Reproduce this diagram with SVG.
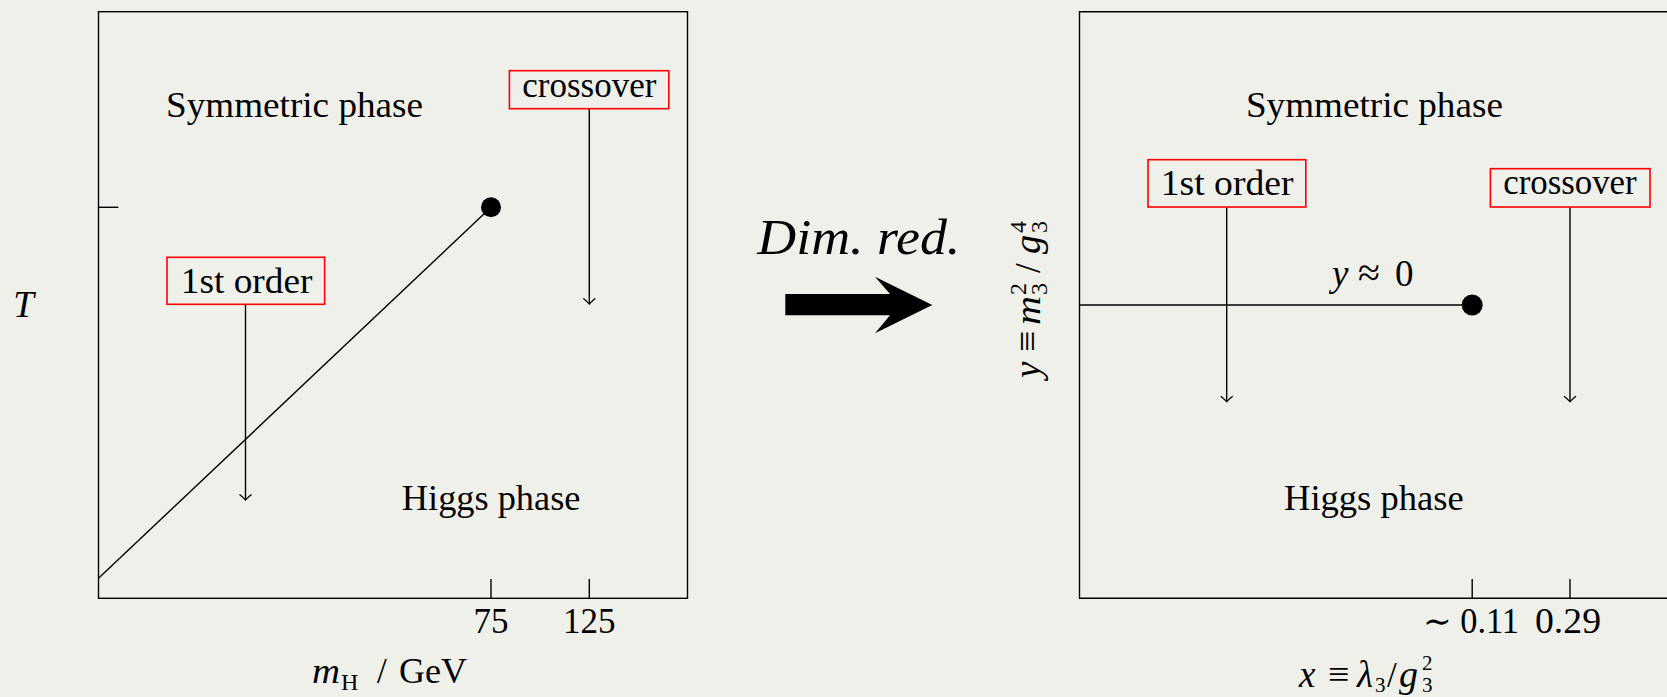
<svg xmlns="http://www.w3.org/2000/svg" width="1667" height="697" viewBox="0 0 1667 697">
<style>
.t{font-family:"Liberation Serif","DejaVu Serif",serif;font-size:35px;fill:#000}
.i{font-style:italic}
.s{font-size:24px}
.ss{font-size:21px}
.ln{stroke:#000;stroke-width:1.4;fill:none}
.box{fill:none;stroke:#ff0000;stroke-width:1.6}
.arr{stroke:#000;stroke-width:1.4;fill:none;marker-end:url(#ah)}
.dot{fill:#000}
</style>
<defs>
<marker id="ah" viewBox="-8 -8 16 16" markerWidth="16" markerHeight="16" markerUnits="userSpaceOnUse" refX="0" refY="0" orient="auto">
<path d="M-5.5,-6 Q-1.5,-1.2 0,0 Q-1.5,1.2 -5.5,6" fill="none" stroke="#000" stroke-width="1.3"/>
</marker>
</defs>
<rect width="1667" height="697" fill="#f0f0eb"/>

<g id="left-axes">
<rect class="ln" x="98.5" y="11.7" width="589" height="586.6"/>
<line class="ln" x1="98.5" y1="207.3" x2="118.3" y2="207.3"/>
<line class="ln" x1="491" y1="579" x2="491" y2="598.3"/>
<line class="ln" x1="589.3" y1="579" x2="589.3" y2="598.3"/>
<text class="t" x="491" y="633.3" text-anchor="middle">75</text>
<text class="t" x="589.3" y="633.3" text-anchor="middle">125</text>
<text class="t i" x="13.3" y="316.7" style="font-size:37px">T</text>
<text class="t i" x="312" y="683.3" textLength="28" lengthAdjust="spacingAndGlyphs">m</text>
<text class="t s" x="341" y="690">H</text>
<text class="t" x="377" y="683.3">/</text>
<text class="t" x="399" y="683.3" textLength="68" lengthAdjust="spacingAndGlyphs">GeV</text>
</g>

<g id="right-axes">
<path class="ln" d="M1700,11.7 H1079.5 V598.3 H1700"/>
<line class="ln" x1="1472.2" y1="579" x2="1472.2" y2="598.3"/>
<line class="ln" x1="1570" y1="579" x2="1570" y2="598.3"/>
<text class="t" x="1423" y="633.3" textLength="96" lengthAdjust="spacingAndGlyphs">∼ 0.11</text>
<text class="t" x="1535" y="633.3" textLength="66" lengthAdjust="spacingAndGlyphs">0.29</text>
<text class="t i" x="1299" y="687" style="font-size:37px">x</text>
<text class="t" x="1328" y="687" style="font-size:38px">≡</text>
<text class="t i" x="1357" y="687" style="font-size:37px">λ</text>
<text class="t ss" x="1375" y="692">3</text>
<text class="t" x="1387" y="687">/</text>
<text class="t i" x="1399" y="687" style="font-size:38px">g</text>
<text class="t ss" x="1422" y="670">2</text>
<text class="t ss" x="1422" y="692">3</text>
<g transform="translate(1040,380) rotate(-90)">
<text class="t i" x="2" y="0" style="font-size:37px">y</text>
<text class="t" x="28" y="0" style="font-size:38px">≡</text>
<text class="t i" x="55" y="0" textLength="29" lengthAdjust="spacingAndGlyphs">m</text>
<text class="t s" x="85" y="-14">2</text>
<text class="t s" x="85" y="7">3</text>
<text class="t" x="107" y="0">/</text>
<text class="t i" x="126" y="0" style="font-size:38px">g</text>
<text class="t s" x="147" y="-14">4</text>
<text class="t s" x="147" y="7">3</text>
</g>
</g>

<g id="connectors">
<line class="ln" x1="98.5" y1="578.3" x2="491" y2="207.3"/>
<line class="arr" x1="245.5" y1="304.3" x2="245.5" y2="500"/>
<line class="arr" x1="589.3" y1="108.7" x2="589.3" y2="304"/>
<line class="ln" x1="1079.5" y1="305" x2="1472.2" y2="305"/>
<line class="arr" x1="1226.7" y1="207" x2="1226.7" y2="401.7"/>
<line class="arr" x1="1570" y1="207" x2="1570" y2="401.7"/>
<polygon points="785.3,294 890,294 875,276.7 932.3,305 875,333.3 890,315.3 785.3,315.3" fill="#000"/>
</g>

<g id="left-symmetric"><text class="t" x="166" y="117.3" textLength="257" lengthAdjust="spacingAndGlyphs">Symmetric phase</text></g>
<g id="left-crossover">
<rect class="box" x="509.4" y="70.7" width="159.4" height="38"/>
<text class="t" x="522.3" y="96.7" textLength="134" lengthAdjust="spacingAndGlyphs">crossover</text>
</g>
<g id="left-first-order">
<rect class="box" x="167" y="257.3" width="157.6" height="47"/>
<text class="t" x="180.8" y="292.7" textLength="131.7" lengthAdjust="spacingAndGlyphs">1st order</text>
</g>
<g id="left-higgs"><text class="t" x="401.8" y="510" textLength="178.6" lengthAdjust="spacingAndGlyphs">Higgs phase</text></g>
<g id="left-endpoint"><circle class="dot" cx="491" cy="207.3" r="10"/></g>

<g id="dimred">
<text class="t i" x="757.3" y="254" style="font-size:51px" textLength="203" lengthAdjust="spacingAndGlyphs">Dim. red.</text>
</g>

<g id="right-symmetric"><text class="t" x="1245.9" y="117.3" textLength="257" lengthAdjust="spacingAndGlyphs">Symmetric phase</text></g>
<g id="right-first-order">
<rect class="box" x="1148" y="159.7" width="157.8" height="47.3"/>
<text class="t" x="1160.8" y="195" textLength="132.7" lengthAdjust="spacingAndGlyphs">1st order</text>
</g>
<g id="right-crossover">
<rect class="box" x="1490.4" y="168.7" width="159.6" height="38.3"/>
<text class="t" x="1503.2" y="194.3" textLength="133.5" lengthAdjust="spacingAndGlyphs">crossover</text>
</g>
<g id="right-y0">
<text class="t i" x="1332" y="286" style="font-size:37px">y</text>
<text class="t" x="1358" y="286" style="font-size:40px">≈</text>
<text class="t" x="1395" y="286" style="font-size:37px">0</text>
</g>
<g id="right-higgs"><text class="t" x="1284" y="510" textLength="179.6" lengthAdjust="spacingAndGlyphs">Higgs phase</text></g>
<g id="right-endpoint"><circle class="dot" cx="1472.2" cy="305" r="10.5"/></g>
</svg>
